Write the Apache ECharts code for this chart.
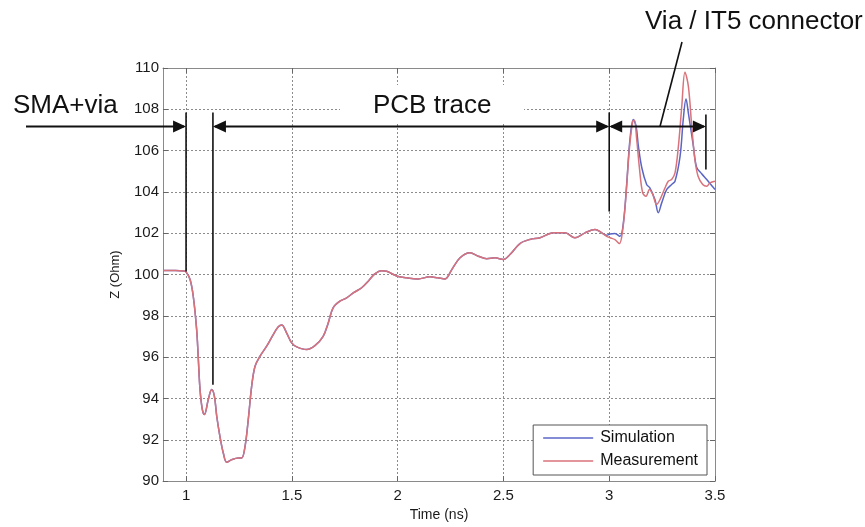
<!DOCTYPE html>
<html>
<head>
<meta charset="utf-8">
<title>TDR impedance profile</title>
<script src="https://cdn.jsdelivr.net/npm/echarts@6/dist/echarts.min.js"></script>
<style>
  html, body { margin: 0; padding: 0; background: #ffffff; }
  #chart { width: 865px; height: 527px; }
</style>
</head>
<body>
<div id="chart"></div>
<script>
// Impedance profile Z(t), shared part of both traces (ns, Ohm)
const timeCommon = [0.891, 0.95, 0.99, 1.0, 1.019, 1.034, 1.05, 1.058, 1.066, 1.077, 1.087, 1.105, 1.121, 1.134,
  1.145, 1.16, 1.176, 1.192, 1.216, 1.247, 1.263, 1.279, 1.294, 1.31, 1.326, 1.349, 1.381, 1.412, 1.436, 1.452,
  1.475, 1.499, 1.523, 1.57, 1.609, 1.648, 1.672, 1.695, 1.727, 1.759, 1.79, 1.83, 1.861, 1.892, 1.924, 1.948,
  1.971, 1.998, 2.042, 2.097, 2.152, 2.19, 2.224, 2.256, 2.295, 2.342, 2.381, 2.421, 2.46, 2.5, 2.531, 2.578,
  2.625, 2.673, 2.736, 2.791, 2.838, 2.886, 2.933, 2.965];
const zCommon = [100.2, 100.2, 100.17, 100.13, 99.76, 98.95, 97.34, 95.9, 94.43, 93.46, 93.22, 93.95, 94.43, 94.1,
  93.14, 92.17, 91.36, 90.91, 91.04, 91.12, 91.12, 91.69, 92.98, 94.59, 95.56, 96.04, 96.53, 97.09, 97.47, 97.56,
  97.18, 96.69, 96.5, 96.37, 96.56, 97.01, 97.66, 98.39, 98.71, 98.87, 99.11, 99.36, 99.68, 100.03, 100.19, 100.16,
  100.05, 99.92, 99.84, 99.79, 99.89, 99.84, 99.79, 100.24, 100.81, 101.05, 100.89, 100.77, 100.81, 100.73, 100.97, 101.5,
  101.7, 101.78, 102.02, 102.02, 101.78, 102.02, 102.18, 102.02];

// Connector region, simulation
const timeSimTail = [2.988, 3.004, 3.027, 3.051, 3.067, 3.083, 3.098, 3.114, 3.127, 3.138, 3.154, 3.177, 3.192,
  3.216, 3.232, 3.248, 3.272, 3.295, 3.311, 3.335, 3.35, 3.363, 3.374, 3.398, 3.413, 3.437, 3.461, 3.485, 3.5];
const zSimTail = [101.9, 101.96, 101.99, 101.85, 102.5, 104.44, 106.54, 107.51, 107.18, 106.21, 105.17, 104.36, 104.2,
  103.63, 102.99, 103.47, 104.12, 104.36, 104.52, 105.73, 107.51, 108.5, 107.83, 106.2, 105.2, 104.88, 104.6, 104.3, 104.12];

// Connector region, measurement
const timeMeasTail = [2.988, 3.004, 3.027, 3.048, 3.064, 3.079, 3.095, 3.111, 3.119, 3.13, 3.142, 3.158, 3.174, 3.19,
  3.206, 3.224, 3.24, 3.264, 3.279, 3.295, 3.311, 3.327, 3.343, 3.358, 3.374, 3.39, 3.405, 3.42, 3.442, 3.461, 3.476, 3.5];
const zMeasTail = [101.85, 101.78, 101.69, 101.5, 102.18, 103.79, 106.05, 107.42, 107.47, 106.54, 105.24, 103.96, 103.79, 104.12,
  103.87, 103.39, 103.63, 104.2, 104.52, 104.6, 104.92, 106.21, 108.15, 109.8, 109.12, 107.18, 105.57, 104.76, 104.36, 104.28, 104.44, 104.52];

const seriesNames = ['Simulation', 'Measurement'];
const xTicks = [1, 1.5, 2, 2.5, 3, 3.5];
const yTicks = [90, 92, 94, 96, 98, 100, 102, 104, 106, 108, 110];

function pairs(ts, zs) { return ts.map((t, i) => [t, zs[i]]); }
const simData = pairs(timeCommon, zCommon).concat(pairs(timeSimTail, zSimTail));
const measData = pairs(timeCommon, zCommon).concat(pairs(timeMeasTail, zMeasTail));

const FONT = '"Liberation Sans", Arial, Helvetica, sans-serif';
const X_MIN = 0.891, X_MAX = 3.5, Y_MIN = 90, Y_MAX = 110;

const gridLine = { show: true, lineStyle: { color: '#8c8c8c', width: 1, type: [2, 2] } };
const frame = { show: true, onZero: false, lineStyle: { color: '#8a8a8a', width: 1 } };
const tickStyle = { color: '#666', width: 1 };
const labelText = { color: '#1a1a1a', fontSize: 15, fontFamily: FONT };

const chart = echarts.init(document.getElementById('chart'), null, { renderer: 'canvas', width: 865, height: 527 });

chart.setOption({
  animation: false,
  backgroundColor: '#ffffff',
  grid: { left: 163, right: 150, top: 68, bottom: 45, show: false },
  xAxis: [
    {
      type: 'value', min: X_MIN, max: X_MAX, position: 'bottom',
      axisLine: frame,
      axisTick: { show: true, inside: true, length: 5, lineStyle: tickStyle, customValues: xTicks },
      splitLine: gridLine,
      axisLabel: Object.assign({ margin: 7, customValues: xTicks, formatter: v => String(v) }, labelText),
      name: 'Time (ns)', nameLocation: 'middle', nameGap: 26,
      nameTextStyle: { color: '#1a1a1a', fontSize: 14, fontFamily: FONT }
    },
    {
      type: 'value', min: X_MIN, max: X_MAX, position: 'top',
      axisLine: frame,
      axisTick: { show: true, inside: true, length: 5, lineStyle: tickStyle, customValues: xTicks },
      splitLine: { show: false }, axisLabel: { show: false, customValues: xTicks }
    }
  ],
  yAxis: [
    {
      type: 'value', min: Y_MIN, max: Y_MAX, interval: 2, position: 'left',
      axisLine: frame,
      axisTick: { show: true, inside: true, length: 5, lineStyle: tickStyle },
      splitLine: gridLine,
      axisLabel: Object.assign({ margin: 4, formatter: v => String(v) }, labelText),
      name: 'Z (Ohm)', nameLocation: 'middle', nameGap: 41, nameRotate: 90,
      nameTextStyle: { color: '#1a1a1a', fontSize: 13, fontFamily: FONT }
    },
    {
      type: 'value', min: Y_MIN, max: Y_MAX, interval: 2, position: 'right',
      axisLine: frame,
      axisTick: { show: true, inside: true, length: 5, lineStyle: tickStyle },
      splitLine: { show: false }, axisLabel: { show: false }
    }
  ],
  legend: {
    right: 158, bottom: 52, orient: 'vertical',
    data: seriesNames,
    icon: 'rect', itemWidth: 50, itemHeight: 1.5, itemGap: 7,
    padding: [5, 9, 6, 10],
    backgroundColor: '#ffffff', borderColor: '#555', borderWidth: 1, borderRadius: 0,
    textStyle: { color: '#111', fontSize: 16, fontFamily: FONT, padding: [0, 0, 0, 2] }
  },
  series: [
    {
      name: seriesNames[0], type: 'line', data: simData, showSymbol: false, smooth: 0.35,
      lineStyle: { color: '#5a66c6', width: 1.5 }, itemStyle: { color: '#5a66c6' }, z: 3
    },
    {
      name: seriesNames[1], type: 'line', data: measData, showSymbol: false, smooth: 0.35,
      lineStyle: { color: '#d8737b', width: 1.5 }, itemStyle: { color: '#d8737b' }, z: 4
    }
  ]
});

// Section markers and labels, placed in data coordinates
const P = (t, z) => chart.convertToPixel({ gridIndex: 0 }, [t, z]);
const arrowZ = 107.17, topZ = 107.85;
const ay = P(1, arrowZ)[1];
const xSma = P(1.0, 0)[0], xPcb = P(1.127, 0)[0], xVia = P(3.0, 0)[0], xEnd = P(3.457, 0)[0];
const INK = '#111111';

function vline(t, z0, z1) {
  const a = P(t, z0), b = P(t, z1);
  return { type: 'line', shape: { x1: a[0], y1: a[1], x2: b[0], y2: b[1] }, style: { stroke: INK, lineWidth: 1.6 }, z: 20 };
}
function hline(x1, x2) {
  return { type: 'line', shape: { x1: x1, y1: ay, x2: x2, y2: ay }, style: { stroke: INK, lineWidth: 2 }, z: 20 };
}
function head(x, dir) {
  // dir = 1 points right, -1 points left
  return { type: 'polygon', shape: { points: [[x, ay], [x - dir * 13, ay - 6], [x - dir * 13, ay + 6]] },
    style: { fill: INK }, z: 21 };
}
const leadA = P(3.24, arrowZ);

chart.setOption({
  graphic: [
    { type: 'rect', shape: { x: 340, y: 85, width: 184, height: 39 }, style: { fill: '#ffffff' }, z: 10 },
    vline(1.0, topZ, 100.15),
    vline(1.127, topZ, 94.67),
    vline(3.0, topZ, 103.05),
    vline(3.457, 107.75, 105.08),
    hline(26, xSma - 2), head(xSma, 1),
    hline(xPcb + 2, xVia - 2), head(xPcb, -1), head(xVia, 1),
    hline(xVia + 2, xEnd - 2), head(xVia, -1), head(xEnd, 1),
    { type: 'line', shape: { x1: leadA[0], y1: leadA[1], x2: 682, y2: 42 }, style: { stroke: INK, lineWidth: 1.6 }, z: 20 },
    { type: 'text', left: 13, top: 93, z: 22,
      style: { text: 'SMA+via', fill: INK, font: '26px ' + FONT } },
    { type: 'text', left: 373, top: 93, z: 22,
      style: { text: 'PCB trace', fill: INK, font: '26px ' + FONT } },
    { type: 'text', left: 645, top: 9, z: 22,
      style: { text: 'Via / IT5 connector', fill: INK, font: '26px ' + FONT } }
  ]
});
</script>
</body>
</html>
